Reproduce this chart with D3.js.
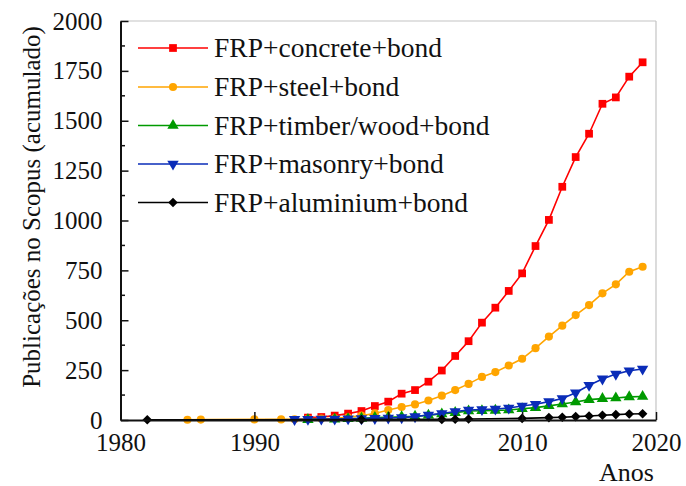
<!DOCTYPE html>
<html>
<head>
<meta charset="utf-8">
<script src="https://cdn.jsdelivr.net/npm/d3@7"></script>
<style>
  html, body { margin: 0; padding: 0; background: #fff; }
  svg { display: block; }
  text { font-family: "Liberation Serif", "DejaVu Serif", serif; fill: #111; }
</style>
</head>
<body>
<svg id="chart" width="686" height="486"></svg>
<script>
// Cumulative Scopus publications per topic
const concreteYears = [1994,1995,1996,1997,1998,1999,2000,2001,2002,2003,2004,2005,2006,2007,2008,2009,2010,2011,2012,2013,2014,2015,2016,2017,2018,2019];
const concreteValues = [12,15,22,32,45,70,92,132,150,192,248,321,395,488,563,647,735,872,1003,1169,1318,1435,1585,1617,1721,1793];

const steelYears = [1985,1986,1990,1992,1993,1994,1995,1996,1997,1998,1999,2000,2001,2002,2003,2004,2005,2006,2007,2008,2009,2010,2011,2012,2013,2014,2015,2016,2017,2018,2019];
const steelValues = [1,2,3,3,4,6,7,9,14,22,33,50,65,78,98,122,150,181,216,240,273,307,360,418,473,526,576,635,680,743,768];

const timberYears = [1994,1996,1997,1998,1999,2000,2001,2002,2003,2004,2005,2006,2007,2008,2009,2010,2011,2012,2013,2014,2015,2016,2017,2018,2019];
const timberValues = [2,4,6,8,12,14,16,19,24,30,37,45,46,48,50,56,62,71,80,90,102,107,110,116,118];

const masonryYears = [1993,1994,1995,1996,1997,1998,1999,2000,2001,2002,2003,2004,2005,2006,2007,2008,2009,2010,2011,2012,2013,2014,2015,2016,2017,2018,2019];
const masonryValues = [3,4,5,5,6,7,8,10,12,17,25,33,43,50,53,55,60,70,79,92,108,137,174,206,230,247,256];

const aluminiumYears = [1982,1998,2004,2005,2006,2010,2012,2013,2014,2015,2016,2017,2018,2019];
const aluminiumValues = [1,2,3,4,5,8,12,14,17,20,24,27,30,31];

const seriesNames = ["FRP+concrete+bond","FRP+steel+bond","FRP+timber/wood+bond","FRP+masonry+bond","FRP+aluminium+bond"];
const seriesColors = ["#ff0000","#ffa500","#009a00","#0a2cb8","#000000"];
const seriesSymbols = ["square", "circle", "triangleUp", "triangleDown", "diamond"];

const xTicks = [1980,1990,2000,2010,2020];
const yTicks = [0,250,500,750,1000,1250,1500,1750,2000];
const yMinorTicks = [125,375,625,875,1125,1375,1625,1875];

const series = [
  {years: concreteYears, values: concreteValues},
  {years: steelYears, values: steelValues},
  {years: timberYears, values: timberValues},
  {years: masonryYears, values: masonryValues},
  {years: aluminiumYears, values: aluminiumValues}
].map((s, i) => ({
  name: seriesNames[i], color: seriesColors[i], symbol: seriesSymbols[i],
  points: s.years.map((yr, j) => ({x: yr, y: s.values[j]}))
}));

const svg = d3.select("#chart");
const plotLeft = 120.5, plotRight = 656, plotTop = 21, plotBottom = 420;
const x = d3.scaleLinear().domain([1980, 2020]).range([plotLeft, plotRight]);
const y = d3.scaleLinear().domain([0, 2000]).range([plotBottom, plotTop]);

// grey frame on top and right
svg.append("line").attr("x1", plotLeft).attr("x2", plotRight).attr("y1", plotTop).attr("y2", plotTop)
  .attr("stroke", "#c4c4c4").attr("stroke-width", 1.2);
svg.append("line").attr("x1", plotRight).attr("x2", plotRight).attr("y1", plotTop).attr("y2", plotBottom)
  .attr("stroke", "#c4c4c4").attr("stroke-width", 1.2);

// marker shapes: symbol type, area and rotation
const markerSpec = {
  square:       {type: d3.symbolSquare,   size: 60, rot: 0},
  circle:       {type: d3.symbolCircle,   size: 52, rot: 0},
  triangleUp:   {type: d3.symbolTriangle, size: 56, rot: 0},
  triangleDown: {type: d3.symbolTriangle, size: 56, rot: 180},
  diamond:      {type: d3.symbolSquare,   size: 46, rot: 45}
};

function drawMarker(g, s, cx, cy) {
  const m = markerSpec[s.symbol];
  return g.append("path")
    .attr("d", d3.symbol().type(m.type).size(m.size)())
    .attr("fill", s.color)
    .attr("transform", `translate(${cx},${cy})` + (m.rot ? ` rotate(${m.rot})` : ""));
}

// series lines and markers
const line = d3.line().x(d => x(d.x)).y(d => y(d.y));
series.forEach(s => {
  const g = svg.append("g");
  g.append("path").datum(s.points).attr("d", line)
    .attr("fill", "none").attr("stroke", s.color).attr("stroke-width", 1.6);
  s.points.forEach(p => drawMarker(g, s, x(p.x), y(p.y)));
});

// axes
const yAxis = d3.axisLeft(y).tickValues(yTicks).tickSizeInner(-8).tickSizeOuter(0).tickPadding(18).tickFormat(d3.format("d"));
const gy = svg.append("g").attr("transform", `translate(${plotLeft},0)`).call(yAxis);
gy.selectAll("text").attr("font-size", 25).style("font-family", "'Liberation Serif', serif").attr("fill", "#111");
gy.selectAll("line").attr("stroke", "#111").attr("stroke-width", 1.5);
gy.select(".domain").attr("stroke", "#111").attr("stroke-width", 2);
svg.append("g").selectAll("line").data(yMinorTicks).join("line")
  .attr("x1", plotLeft).attr("x2", plotLeft + 4.5).attr("y1", d => y(d)).attr("y2", d => y(d))
  .attr("stroke", "#111").attr("stroke-width", 1.5);

const xAxis = d3.axisBottom(x).tickValues(xTicks).tickSizeInner(-8).tickSizeOuter(0).tickPadding(13).tickFormat(d3.format("d"));
const gx = svg.append("g").attr("transform", `translate(0,${plotBottom})`).call(xAxis);
gx.selectAll("text").attr("font-size", 25).style("font-family", "'Liberation Serif', serif").attr("fill", "#111");
gx.selectAll("line").attr("stroke", "#111").attr("stroke-width", 1.5);
gx.select(".domain").attr("stroke", "#111").attr("stroke-width", 2.2);

// axis titles
svg.append("text").attr("transform", "translate(40,207) rotate(-90)")
  .attr("text-anchor", "middle").attr("font-size", 25)
  .text("Publicações no Scopus (acumulado)");
svg.append("text").attr("x", 654).attr("y", 481).attr("text-anchor", "end")
  .attr("font-size", 26).text("Anos");

// legend
const legend = svg.append("g");
const legendY = [48, 87, 125.5, 164, 202.5];
series.forEach((s, i) => {
  const ly = legendY[i];
  legend.append("line").attr("x1", 138).attr("x2", 208).attr("y1", ly).attr("y2", ly)
    .attr("stroke", s.color).attr("stroke-width", 1.6);
  drawMarker(legend, s, 173, ly);
  legend.append("text").attr("x", 214).attr("y", ly + 9).attr("font-size", 27.5).text(s.name);
});
</script>
</body>
</html>
